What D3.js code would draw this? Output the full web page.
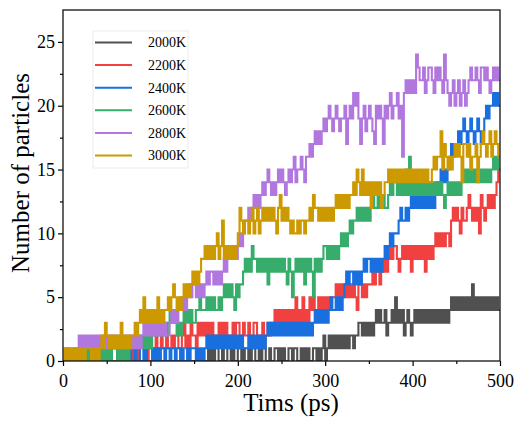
<!DOCTYPE html>
<html>
<head>
<meta charset="UTF-8">
<title>Number of particles</title>
<script src="https://d3js.org/d3.v7.min.js"></script>
<style>
  body { margin: 0; background: #fff; }
  svg text { font-family: "Liberation Serif", "Times New Roman", serif; fill: #000; }
</style>
</head>
<body>
<svg id="chart" width="524" height="423"></svg>
<script>
// particle counts, one sample every 2 ps, one base-36 character per sample
// (a=10, b=11 ... n=23); each string is 50 ps, spaces are only for reading
var k2000 = [
  "00000 00000 00000 00000 00000", "00000 00000 00000 00000 00000",
  "00000 00000 00000 00000 00000", "00000 00010 10110 01001 10100",
  "11010 01011 00101 10010 01101", "01001 10110 01010 10011 01012",
  "01212 12121 21212 21223 32323", "23234 34334 23343 53434 23432",
  "34343 43434 34343 43434 34545", "45454 54546 45454 54545 45454"
];
var k2200 = [
  "00000 00000 00000 00000 00000", "00000 01000 00100 10100 00010",
  "01021 12112 11212 21123 12132", "21323 23232 32223 23232 22323",
  "32232 23223 32123 12323 34343", "43434 34353 43534 35454 45454",
  "54545 56565 65656 56546 65656", "66767 76778 78989 98789 89897",
  "98989 89798 989a9 a9a9a a9bcb", "cbacb bcdcb cbcad cbcdc dcdef"
];
var k2400 = [
  "00000 00000 00000 00000 00101", "01011 10101 01101 10110 01011",
  "10101 01101 10110 11010 01011", "10101 01212 12121 21212 12121",
  "21211 12121 21212 12323 23232", "32323 23232 32323 23234 34343",
  "43454 45454 56767 76767 67878", "87878 78789 89a9a aabcb bcbcd",
  "cdcdc dcdcd cdcde efefe fghgh", "hihij ihiji hijih ijkjk klklk"
];
var k2600 = [
  "00000 00000 10101 01010 10101", "01011 10101 01011 12121 21212",
  "12323 23232 34343 23234 34343", "34454 44545 45445 45656 56546",
  "56678 78798 87878 78687 87878", "78768 75787 87868 78758 78789",
  "98989 8989a 9a9ab abbcb cbcbc", "bcdcc dccdc cdede edede dfdgd",
  "edede deded edede dedcd edede", "dedef efefe fefef efefe fgfgf"
];
var k2800 = [
  "01010 01012 12121 21212 12121", "21212 12121 21212 12121 23232",
  "32323 23232 23434 34545 45656", "65656 56767 76767 67878 89898",
  "9a9ab bcbcd cdcde defed edefe", "fedef efgef fgfeg ghghi hihij",
  "ijkji jkjij jkhjk jlklj hjkij", "kjihk jkjhk jkljk kljkg lmlml",
  "mlonm mnlmn nmlnm nmlom lklmk", "lmklm klmnm mnmln nmnml mnmnm"
];
var k3000 = [
  "01010 10101 01011 10101 01213", "21212 12131 21212 23234 35343",
  "43435 34344 54565 45456 56567", "67678 89898 989a8 9b898 98989",
  "acbab babca bcabc bcbcb cbacd", "bcbcb abaab abbab bcbdc cbcbc",
  "bcbcb cdcdc dcdcd dedfe dfded", "ecede decde efefe fefef efefe",
  "fefef efefe efgfg gifhg fgfgh", "ghgeh hghfg ghegh ihghi ghihg"
];

var names = ["2000K", "2200K", "2400K", "2600K", "2800K", "3000K"];
var colors = ["#505050", "#f14040", "#1a6fdf", "#37ad6b", "#b177de", "#cc9900"];
var xTicks = [0, 100, 200, 300, 400, 500];
var xMinor = [50, 150, 250, 350, 450];
var yTicks = [0, 5, 10, 15, 20, 25];
var yMinor = [2.5, 7.5, 12.5, 17.5, 22.5];
var step = 2; // ps between samples

function toPoints(chunks) {
  var vals = Array.from(chunks.join("").replace(/\s/g, ""), function (c) { return parseInt(c, 36); });
  var pts = vals.map(function (v, i) { return [i * step, v]; });
  pts.push([vals.length * step, vals[vals.length - 1]]);
  return pts;
}

var series = [k2000, k2200, k2400, k2600, k2800, k3000].map(toPoints);

var plotL = 63, plotR = 500, plotT = 10, plotB = 361;
var svg = d3.select("#chart");

var x = d3.scaleLinear().domain([0, 500]).range([plotL, plotR]);
var y = d3.scaleLinear().domain([0, 27.5]).range([plotB, plotT]);

svg.append("clipPath").attr("id", "plot")
  .append("rect").attr("x", plotL).attr("y", plotT)
  .attr("width", plotR - plotL).attr("height", plotB - plotT);

var line = d3.line()
  .x(function (d) { return x(d[0]); })
  .y(function (d) { return y(d[1]); })
  .curve(d3.curveStepAfter);

// the count jumps back and forth every sample, so a wide stroke fills each band
svg.append("g").attr("clip-path", "url(#plot)")
  .selectAll("path").data(series).enter().append("path")
  .attr("d", line)
  .attr("fill", "none")
  .attr("stroke", function (d, i) { return colors[i]; })
  .attr("stroke-width", 2.1);

// axes, major and minor ticks pointing out
svg.append("g").attr("transform", "translate(0," + plotB + ")")
  .call(d3.axisBottom(x).tickValues(xTicks).tickSize(5).tickPadding(8));
svg.append("g").attr("transform", "translate(0," + plotB + ")")
  .call(d3.axisBottom(x).tickValues(xMinor).tickSize(3).tickFormat(""));
svg.append("g").attr("transform", "translate(" + plotL + ",0)")
  .call(d3.axisLeft(y).tickValues(yTicks).tickSize(5).tickPadding(3));
svg.append("g").attr("transform", "translate(" + plotL + ",0)")
  .call(d3.axisLeft(y).tickValues(yMinor).tickSize(3).tickFormat(""));

svg.selectAll(".domain").remove();
svg.selectAll(".tick line").attr("stroke", "#000").attr("stroke-width", 1.2);
svg.selectAll(".tick text").attr("font-size", 18)
  .style("font-family", "'Liberation Serif', 'Times New Roman', serif");

svg.append("rect")
  .attr("x", plotL).attr("y", plotT)
  .attr("width", plotR - plotL).attr("height", plotB - plotT)
  .attr("fill", "none").attr("stroke", "#111").attr("stroke-width", 1.3);

svg.append("text")
  .attr("x", 291).attr("y", 411)
  .attr("text-anchor", "middle").attr("font-size", 25)
  .text("Tims (ps)");

svg.append("text")
  .attr("transform", "translate(29,173) rotate(-90)")
  .attr("text-anchor", "middle").attr("font-size", 25)
  .text("Number of particles");

// legend
var legend = svg.append("g");
legend.append("rect")
  .attr("x", 93).attr("y", 31).attr("width", 95).attr("height", 137)
  .attr("fill", "#fff").attr("stroke", "#ececec").attr("stroke-width", 1);

var items = legend.selectAll("g.item").data(names).enter().append("g")
  .attr("transform", function (d, i) { return "translate(0," + (42.5 + i * 22.6) + ")"; });
items.append("line")
  .attr("x1", 95).attr("x2", 132)
  .attr("stroke", function (d, i) { return colors[i]; })
  .attr("stroke-width", 2);
items.append("text")
  .attr("x", 148).attr("dy", "0.35em").attr("font-size", 14)
  .text(function (d) { return d; });
</script>
</body>
</html>
